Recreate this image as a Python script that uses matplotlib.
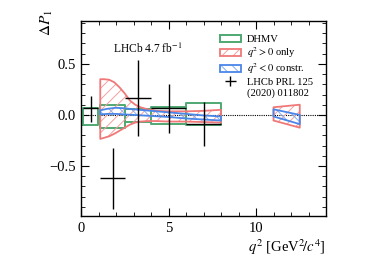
import matplotlib
matplotlib.use("Agg")
import matplotlib.pyplot as plt
from matplotlib.patches import Patch
from matplotlib.ticker import MultipleLocator

plt.rcParams['font.family'] = ['Liberation Serif', 'DejaVu Serif']
plt.rcParams['mathtext.fontset'] = 'stix'
plt.rcParams['hatch.linewidth'] = 0.7

# LHCb data
lhcb_x = [0.55, 1.82, 3.26, 5.02, 7.03]
lhcb_xlo = [0.1, 1.1, 2.5, 4.0, 6.0]
lhcb_xhi = [0.98, 2.5, 4.0, 6.0, 8.0]
lhcb_y = [0.065, -0.62, 0.163, 0.065, -0.088]
lhcb_yup = [0.185, -0.32, 0.54, 0.30, 0.124]
lhcb_ydn = [-0.065, -0.925, -0.21, -0.18, -0.30]

# DHMV boxes
dhmv_lo_edge = [0.1, 1.1, 2.5, 4.0, 6.0]
dhmv_hi_edge = [0.98, 2.5, 4.0, 6.0, 8.0]
dhmv_top = [0.07, 0.095, 0.06, 0.08, 0.12]
dhmv_bot = [-0.095, -0.125, -0.07, -0.085, -0.10]

# q2 > 0 only band
red_q = [1.1, 1.3, 1.6, 1.9, 2.2, 2.5, 2.8, 3.1, 3.4, 3.8, 4.3, 5.0, 6.0, 7.0, 8.0]
red_up = [0.35, 0.35, 0.345, 0.32, 0.27, 0.21, 0.14, 0.10, 0.075, 0.055, 0.04, 0.035, 0.035, 0.04, 0.05]
red_dn = [-0.235, -0.225, -0.21, -0.185, -0.155, -0.125, -0.095, -0.075, -0.065, -0.06, -0.06, -0.065, -0.065, -0.07, -0.075]
red_q2 = [11.0, 12.5]
red_up2 = [0.075, 0.10]
red_dn2 = [-0.055, -0.125]

# q2 < 0 constrained band
blue_q = [1.1, 1.5, 2.0, 2.5, 3.0, 4.0, 5.0, 6.0, 7.0, 8.0]
blue_up = [0.045, 0.06, 0.07, 0.065, 0.055, 0.04, 0.025, 0.01, -0.005, -0.015]
blue_dn = [0.005, 0.01, 0.01, 0.005, 0.0, -0.01, -0.02, -0.035, -0.045, -0.055]
blue_q2 = [11.0, 12.5]
blue_up2 = [0.055, 0.0]
blue_dn2 = [-0.015, -0.09]

legend_labels = ['DHMV', r'$q^2 > 0$ only', r'$q^2 < 0$ constr.', 'LHCb PRL 125', '(2020) 011802']

GREEN = '#4fa872'
RED = '#f07878'
RED_H = '#f4a0a0'
BLUE = '#4a86e8'
BLUE_H = '#85aef0'

fig = plt.figure(figsize=(3.74, 2.64), dpi=100)
ax = fig.add_axes([0.2166, 0.1818, 0.6551, 0.7387])

ax.axhline(0, color='black', ls=(0, (1, 1)), lw=0.8, zorder=1)

for lo, hi, t, b in zip(dhmv_lo_edge, dhmv_hi_edge, dhmv_top, dhmv_bot):
    ax.fill_between([lo, hi], [b, b], [t, t], facecolor='none', edgecolor=GREEN, lw=1.4, zorder=2)

def band(q, up, dn, hcol, col, hatch):
    ax.fill_between(q, dn, up, facecolor='none', edgecolor=hcol, hatch=hatch, lw=0, zorder=3)
    ax.fill_between(q, dn, up, facecolor='none', edgecolor=col, lw=1.3, zorder=4)

band(red_q, red_up, red_dn, RED_H, RED, '///')
band(red_q2, red_up2, red_dn2, RED_H, RED, '///')
band(blue_q, blue_up, blue_dn, BLUE_H, BLUE, '\\\\\\')
band(blue_q2, blue_up2, blue_dn2, BLUE_H, BLUE, '\\\\\\')

xerr = [[x - l for x, l in zip(lhcb_x, lhcb_xlo)], [h - x for x, h in zip(lhcb_x, lhcb_xhi)]]
yerr = [[y - d for y, d in zip(lhcb_y, lhcb_ydn)], [u - y for y, u in zip(lhcb_y, lhcb_yup)]]
eb = ax.errorbar(lhcb_x, lhcb_y, xerr=xerr, yerr=yerr, fmt='none', ecolor='black', elinewidth=1.0, capsize=0, zorder=5)

ax.set_xlim(0, 14)
ax.set_ylim(-0.99, 0.92)
ax.xaxis.set_major_locator(MultipleLocator(5))
ax.xaxis.set_minor_locator(MultipleLocator(1))
ax.yaxis.set_major_locator(MultipleLocator(0.5))
ax.yaxis.set_minor_locator(MultipleLocator(0.1))
ax.tick_params(which='both', direction='in', top=True, right=True, labelsize=10.5)
ax.tick_params(which='major', length=6, pad=4)
ax.tick_params(which='minor', length=3)
for s in ax.spines.values():
    s.set_linewidth(1.0)

ax.set_xlabel(r'$q^2$ [GeV$^2\!/c^4$]', fontsize=10.5, loc='right', labelpad=2)
ax.set_ylabel(r'$\Delta P_1$', fontsize=11, ha='center', va='center')
ax.yaxis.set_label_coords(-0.139, 0.99)

ax.text(1.8, 0.65, r'LHCb 4.7 fb$^{-1}$', fontsize=8.3, va='center')

h_dhmv = Patch(facecolor='none', edgecolor=GREEN, lw=1.4)
h_red = (Patch(facecolor='none', edgecolor=RED_H, hatch='///', lw=0), Patch(facecolor='none', edgecolor=RED, lw=1.3))
h_blue = (Patch(facecolor='none', edgecolor=BLUE_H, hatch='\\\\\\', lw=0), Patch(facecolor='none', edgecolor=BLUE, lw=1.3))
h_empty = Patch(facecolor='none', edgecolor='none')
leg = ax.legend([h_dhmv, h_red, h_blue, eb, h_empty], legend_labels,
                loc='upper left', bbox_to_anchor=(0.567, 0.93), frameon=False, fontsize=7.6,
                handlelength=2.0, handleheight=0.75, labelspacing=0.1, handletextpad=0.55,
                borderaxespad=0, borderpad=0)

fig.savefig('out.png', dpi=100)
